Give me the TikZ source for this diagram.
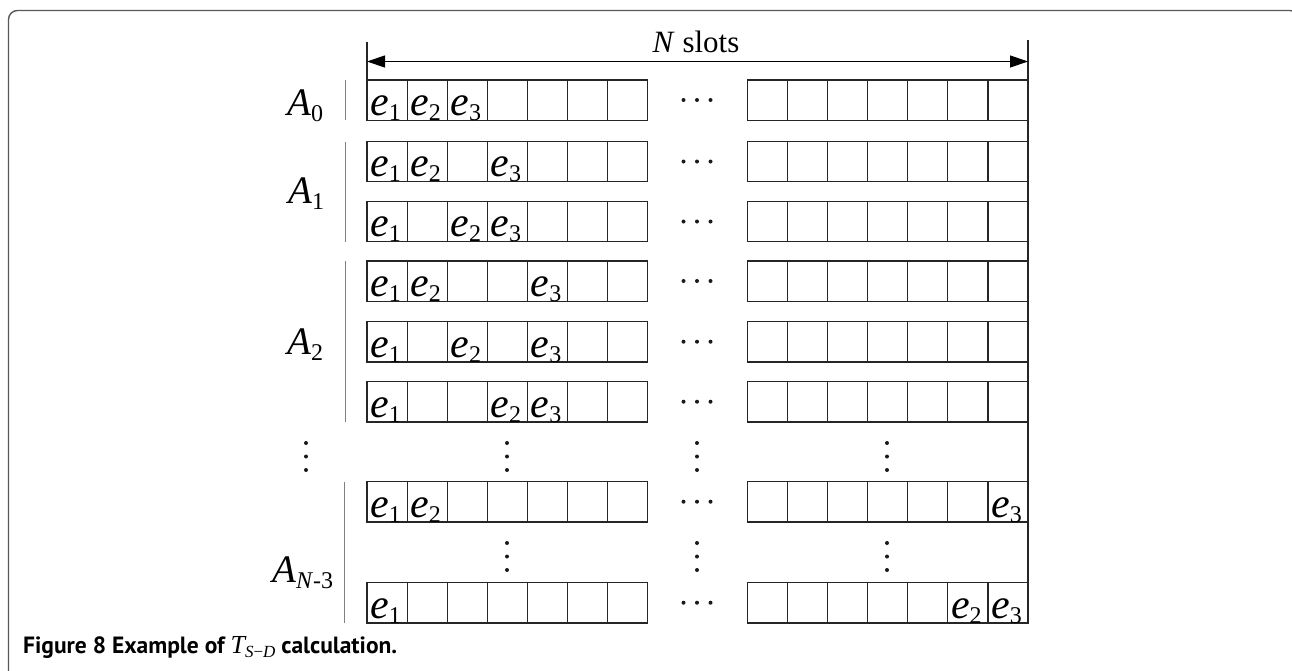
\documentclass[tikz,border=0pt]{standalone}
\usepackage{fontspec}
\setmainfont{Liberation Serif}
\newfontfamily\capfont{PT Sans}
\usetikzlibrary{arrows.meta}
\newcommand\ev[1]{{\fontsize{42}{42}\selectfont\itshape e}{\fontsize{24}{24}\selectfont\raisebox{-5pt}{#1}}}
\newcommand\alab[1]{{\fontsize{39}{39}\selectfont\itshape A}{\fontsize{24}{24}\selectfont\raisebox{-6pt}{#1}}}
\begin{document}
\begin{tikzpicture}[x=1pt,y=-1pt,
  cell/.style={draw=black!85, line width=1.2pt, minimum width=40.1pt, minimum height=40.3pt, inner sep=0pt, outer sep=0pt, anchor=north west},
  dotn/.style={circle, fill=black!90, inner sep=0pt, minimum size=4pt},
  elab/.style={anchor=base west, inner sep=0pt},
  bracket/.style={draw=black!50, line width=1.8pt},
  vline/.style={draw=black!85, line width=1.4pt},
  frame/.style={draw=black!65, line width=1.4pt, rounded corners=9pt}]
\useasboundingbox (0,0) rectangle (1292,670);
% frame
\coordinate (f1) at (8.5,690);
\coordinate (f2) at (8.5,10.5);
\coordinate (f3) at (1299,10.5);
\coordinate (f4) at (1299,690);
\draw[frame] (f1) -- (f2) -- (f3) -- (f4);
% cells and horizontal dots
\foreach \r/\y in {1/80,2/141.5,3/201.5,4/261,5/321.7,6/381.7,7/481.7,8/582.7}{
  \foreach \c in {1,...,7}{
    \node[cell] (L\r-\c) at ({367+(\c-1)*40.1},\y) {};
    \node[cell] (R\r-\c) at ({747.3+(\c-1)*40.1},\y) {};
  }
  \foreach \k/\dx in {1/683.5,2/697,3/710.5}{
    \node[dotn] (h\r-\k) at (\dx,{\y+20}) {};
  }
}
% cell labels
\foreach \cl/\k [count=\i] in {L1-1/1,L1-2/2,L1-3/3,
  L2-1/1,L2-2/2,L2-4/3,
  L3-1/1,L3-3/2,L3-4/3,
  L4-1/1,L4-2/2,L4-5/3,
  L5-1/1,L5-3/2,L5-5/3,
  L6-1/1,L6-4/2,L6-5/3,
  L7-1/1,L7-2/2,R7-7/3,
  L8-1/1,R8-6/2,R8-7/3}{
  \node[elab] (lab\i) at ([xshift=3pt,yshift=5pt]\cl.south west) {\ev{\k}};
}
% vertical dots
\foreach \vx [count=\j] in {306,507,697,887}{
  \foreach \vy [count=\m] in {443,456.5,470}{
    \node[dotn] (va\j-\m) at (\vx,\vy) {};
  }
}
\foreach \vx [count=\j] in {507,697,887}{
  \foreach \vy [count=\m] in {543,556.5,570}{
    \node[dotn] (vb\j-\m) at (\vx,\vy) {};
  }
}
% group labels and brackets
\node[elab] (A0) at (287,115) {\alab{0}};
\node[elab] (A1) at (288,203) {\alab{1}};
\node[elab] (A2) at (287,354) {\alab{2}};
\node[elab] (AN) at (272,582) {\alab{\textit{N}-3}};
\coordinate (b0t) at (345.5,80);   \coordinate (b0b) at (345.5,120.3);
\coordinate (b1t) at (345.5,141.5); \coordinate (b1b) at (345.5,241.8);
\coordinate (b2t) at (345.5,261);   \coordinate (b2b) at (345.5,422);
\coordinate (b3t) at (344.5,481.7); \coordinate (b3b) at (344.5,623);
\draw[bracket] (b0t) -- (b0b);
\draw[bracket] (b1t) -- (b1b);
\draw[bracket] (b2t) -- (b2b);
\draw[bracket] (b3t) -- (b3b);
% N slots dimension
\coordinate (tl) at (367,41.5);
\coordinate (tr) at (1028,40);
\coordinate (rb) at (1028,623);
\coordinate (al) at (367,61.5);
\coordinate (ar) at (1028,61.5);
\draw[vline] (tl) -- (L1-1.north west);
\draw[vline] (tr) -- (rb);
\draw[line width=1.2pt, {Triangle[length=18pt,width=12pt]}-{Triangle[length=18pt,width=12pt]}] (al) -- (ar);
\node[anchor=base, inner sep=0pt] (ns) at (696,52) {\fontsize{31}{31}\selectfont\textit{N} slots};
% caption
\node[anchor=base west, inner sep=0pt] (cap) at (23,653) {\capfont\fontsize{23.5}{23.5}\selectfont\bfseries Figure 8 Example of {\rmfamily\mdseries\fontsize{26}{26}\selectfont\itshape T}{\rmfamily\mdseries\fontsize{17}{17}\selectfont\raisebox{-4pt}{\textit{S}−\textit{D}}} calculation.};
\end{tikzpicture}
\end{document}
